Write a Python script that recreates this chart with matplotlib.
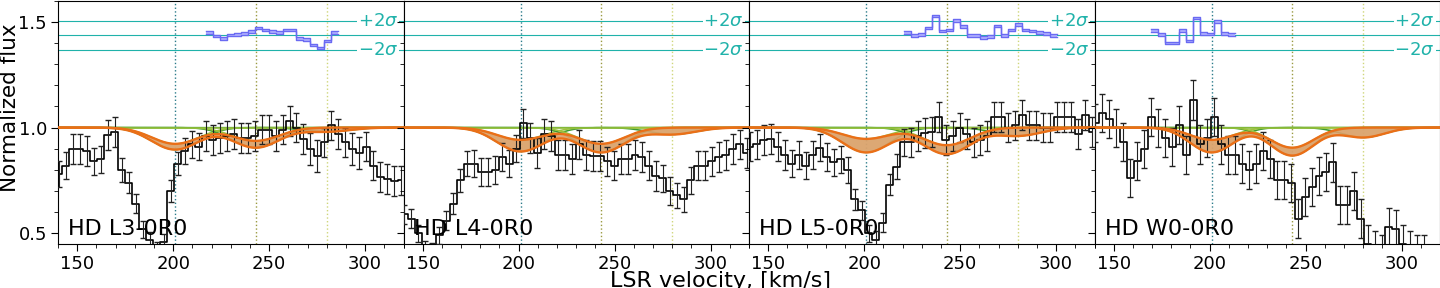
import numpy as np
import matplotlib.pyplot as plt
from matplotlib.ticker import MultipleLocator
import matplotlib.transforms as mtransforms

# velocity grid of the spectrum (bin centres, km/s)
v_start = 140.48
v_step = 3.64
n_bins = 50

panel_names = ["HD L3-0R0", "HD L4-0R0", "HD L5-0R0", "HD W0-0R0"]

flux_l3 = [0.78, 0.82, 0.90, 0.90, 0.89, 0.84, 0.85, 0.965, 0.98, 0.80,
           0.74, 0.64, 0.52, 0.47, 0.43, 0.46, 0.70, 0.83, 0.89, 0.92,
           0.91, 0.96, 0.94, 0.95, 0.96, 0.97, 0.95, 0.95, 0.96, 0.99,
           0.99, 0.96, 0.99, 1.03, 1.00, 0.945, 0.90, 0.865, 0.93, 1.01,
           0.97, 0.93, 0.90, 0.88, 0.91, 0.82, 0.765, 0.757, 0.746, 0.75]
err_l3 = [0.06, 0.065, 0.07, 0.07, 0.07, 0.065, 0.065, 0.07, 0.07, 0.055,
          0.05, 0.045, 0.04, 0.035, 0.03, 0.035, 0.05, 0.055, 0.06, 0.065,
          0.065, 0.07, 0.07, 0.07, 0.07, 0.07, 0.07, 0.07, 0.07, 0.07,
          0.07, 0.07, 0.07, 0.07, 0.07, 0.07, 0.075, 0.075, 0.07, 0.07,
          0.07, 0.07, 0.075, 0.075, 0.07, 0.07, 0.07, 0.07, 0.07, 0.07]

flux_l4 = [0.59, 0.57, 0.50, 0.43, 0.42, 0.49, 0.56, 0.64, 0.75, 0.83,
           0.83, 0.79, 0.79, 0.80, 0.86, 0.83, 0.90, 1.02, 0.95, 0.88,
           0.97, 0.96, 0.87, 0.87, 0.85, 0.92, 0.87, 0.865, 0.865, 0.84,
           0.82, 0.85, 0.85, 0.87, 0.86, 0.82, 0.77, 0.76, 0.70, 0.68,
           0.66, 0.75, 0.82, 0.82, 0.84, 0.86, 0.87, 0.90, 0.92, 0.88]
err_l4 = [0.045, 0.045, 0.04, 0.035, 0.035, 0.04, 0.045, 0.05, 0.055, 0.06,
          0.065, 0.065, 0.065, 0.065, 0.065, 0.065, 0.065, 0.07, 0.07, 0.07,
          0.07, 0.07, 0.07, 0.07, 0.07, 0.07, 0.07, 0.07, 0.07, 0.07,
          0.07, 0.07, 0.07, 0.07, 0.07, 0.07, 0.07, 0.065, 0.065, 0.06,
          0.06, 0.065, 0.07, 0.07, 0.07, 0.07, 0.07, 0.07, 0.07, 0.07]

flux_l5 = [0.91, 0.92, 0.94, 0.945, 0.91, 0.87, 0.83, 0.87, 0.82, 0.87,
           0.905, 0.86, 0.835, 0.85, 0.80, 0.66, 0.61, 0.50, 0.47, 0.55,
           0.73, 0.815, 0.93, 0.93, 0.96, 0.975, 0.98, 1.05, 0.94, 0.96,
           1.00, 0.97, 0.93, 0.94, 0.96, 1.05, 1.05, 1.00, 1.01, 1.06,
           1.01, 1.01, 1.00, 1.00, 1.05, 1.05, 1.05, 0.97, 1.06, 0.98]
err_l5 = [0.07, 0.07, 0.07, 0.07, 0.07, 0.07, 0.065, 0.065, 0.065, 0.065,
          0.065, 0.065, 0.065, 0.065, 0.06, 0.05, 0.045, 0.04, 0.04, 0.045,
          0.05, 0.06, 0.065, 0.07, 0.07, 0.07, 0.07, 0.07, 0.07, 0.07,
          0.07, 0.07, 0.07, 0.07, 0.07, 0.07, 0.07, 0.07, 0.07, 0.07,
          0.07, 0.07, 0.07, 0.07, 0.07, 0.07, 0.07, 0.07, 0.07, 0.07]

flux_w0 = [1.02, 1.07, 1.04, 1.00, 0.93, 0.76, 0.84, 0.90, 1.05, 1.00,
           0.95, 0.91, 1.01, 0.87, 1.13, 0.92, 0.95, 1.05, 0.92, 0.87,
           0.87, 0.83, 0.80, 0.83, 0.89, 0.85, 0.75, 0.75, 0.74, 0.57,
           0.67, 0.72, 0.77, 0.79, 0.835, 0.635, 0.635, 0.70, 0.57, 0.45,
           0.42, 0.40, 0.53, 0.52, 0.45, 0.42, 0.40, 0.40, 0.35, 0.35]
err_w0 = [0.09, 0.09, 0.09, 0.09, 0.09, 0.09, 0.09, 0.09, 0.09, 0.09,
          0.09, 0.09, 0.09, 0.09, 0.095, 0.09, 0.09, 0.09, 0.09, 0.09,
          0.09, 0.09, 0.09, 0.09, 0.09, 0.09, 0.09, 0.09, 0.09, 0.09,
          0.09, 0.09, 0.09, 0.09, 0.09, 0.09, 0.09, 0.09, 0.09, 0.09,
          0.09, 0.09, 0.09, 0.09, 0.09, 0.09, 0.09, 0.09, 0.09, 0.09]

# residuals (offset onto the 1.436 baseline), first bin index of each
res_l3 = [1.45, 1.432, 1.42, 1.437, 1.44, 1.445, 1.455, 1.47, 1.46, 1.453,
          1.45, 1.462, 1.46, 1.42, 1.415, 1.39, 1.375, 1.41, 1.45]
res_l5 = [1.448, 1.434, 1.44, 1.47, 1.528, 1.457, 1.46, 1.505, 1.478, 1.434,
          1.434, 1.426, 1.43, 1.48, 1.434, 1.46, 1.486, 1.46, 1.456, 1.45,
          1.445, 1.435]
res_w0 = [1.458, 1.44, 1.40, 1.40, 1.458, 1.408, 1.517, 1.445, 1.442, 1.50,
          1.445, 1.44]
res_start = [21, None, 22, 8]

# velocity components and fitted line depths (band edges) per panel
comp_v = [201, 243, 280]
comp_colors = ["#2b7b8a", "#9a9a40", "#cfd67a"]
tau_lo = [[0.11, 0.10, 0.02], [0.12, 0.125, 0.033], [0.125, 0.134, 0.04], [0.125, 0.142, 0.048]]
tau_hi = [[0.08, 0.065, 0.0], [0.06, 0.08, 0.0], [0.055, 0.087, 0.0], [0.06, 0.10, 0.0]]
comp_b = [12.0, 12.0, 12.0, 11.0]

res_mid, res_plus, res_minus = 1.436, 1.505, 1.366

fluxes = [flux_l3, flux_l4, flux_l5, flux_w0]
errs = [err_l3, err_l4, err_l5, err_w0]
resids = [res_l3, None, res_l5, res_w0]

vel = v_start + v_step * np.arange(n_bins)
vgrid = np.linspace(138, 322, 800)


def profile(tau, v0, b):
    return np.exp(-tau * np.exp(-0.5 * ((vgrid - v0) / b) ** 2))


fig, axes = plt.subplots(1, 4, figsize=(14.4, 2.88), dpi=100, sharey=True)
fig.subplots_adjust(left=0.0403, right=1.0, bottom=0.153, top=0.998, wspace=0)

for k, ax in enumerate(axes):
    for yl in (res_plus, res_mid, res_minus):
        ax.axhline(yl, color="#20b2aa", lw=0.8, zorder=1)
    for v0, c in zip(comp_v, comp_colors):
        ax.axvline(v0, color=c, ls=":", lw=1.0, zorder=1)

    # individual components
    tot_lo = np.ones_like(vgrid)
    tot_hi = np.ones_like(vgrid)
    for j, v0 in enumerate(comp_v):
        lo = profile(tau_lo[k][j], v0, comp_b[k])
        hi = profile(tau_hi[k][j], v0, comp_b[k])
        tot_lo *= lo
        tot_hi *= hi
        ax.fill_between(vgrid, lo, hi, color="#c5e3a0", alpha=0.5, lw=0, zorder=2)
        ax.plot(vgrid, lo, color="#3a9a32", lw=1.1, zorder=2)
        ax.plot(vgrid, hi, color="#9cc23c", lw=1.1, zorder=2)

    # total profile band
    ax.fill_between(vgrid, tot_lo, tot_hi, color="#dca06a", alpha=0.9, lw=0, zorder=2.5)

    f = np.array(fluxes[k])
    ax.step(vel, f, where="mid", color="k", lw=1.2, zorder=3)
    ax.errorbar(vel, f, yerr=errs[k], fmt="none", ecolor="#222222",
                elinewidth=0.8, capsize=2, capthick=1.0, zorder=3)

    ax.plot(vgrid, tot_lo, color="#ea6f17", lw=1.7, zorder=5)
    ax.plot(vgrid, tot_hi, color="#ea6f17", lw=1.7, zorder=5)

    # residuals
    if resids[k] is not None:
        r = np.array(resids[k] + [resids[k][-1]])
        i0 = res_start[k]
        xr = vel[i0:i0 + len(r)]
        ax.fill_between(xr, r - 0.006, r + 0.006, step="post", color="#b4b4ff", lw=0, zorder=4)
        ax.step(xr, r - 0.006, where="post", color="#6a6af2", lw=1.0, zorder=4)
        ax.step(xr, r + 0.006, where="post", color="#6a6af2", lw=1.0, zorder=4)

    trans = mtransforms.blended_transform_factory(ax.transAxes, ax.transData)
    for yl, lab in ((res_plus, r"$+2\sigma$"), (res_minus, r"$-2\sigma$")):
        ax.text(0.985, yl, lab, transform=trans, ha="right", va="center",
                color="#20b2aa", fontsize=13, zorder=6,
                bbox=dict(facecolor="white", edgecolor="none", pad=0.5))

    ax.text(0.03, 0.037, panel_names[k], transform=ax.transAxes, fontsize=16,
            va="baseline", zorder=7)

    ax.set_xlim(140, 320)
    ax.set_ylim(0.45, 1.6)
    ax.xaxis.set_major_locator(MultipleLocator(50))
    ax.xaxis.set_minor_locator(MultipleLocator(10))
    ax.yaxis.set_major_locator(MultipleLocator(0.5))
    ax.yaxis.set_minor_locator(MultipleLocator(0.1))
    ax.tick_params(which="major", direction="out", length=5, labelsize=13, pad=3)
    ax.tick_params(which="minor", direction="out", length=3)

fig.text(0.0, 0.625, "Normalized flux", rotation=90, ha="left", va="center", fontsize=15.5)
fig.text(0.5, 0.005, "LSR velocity, [km/s]", ha="center", va="baseline", fontsize=16)

fig.savefig("out.png", dpi=100)
